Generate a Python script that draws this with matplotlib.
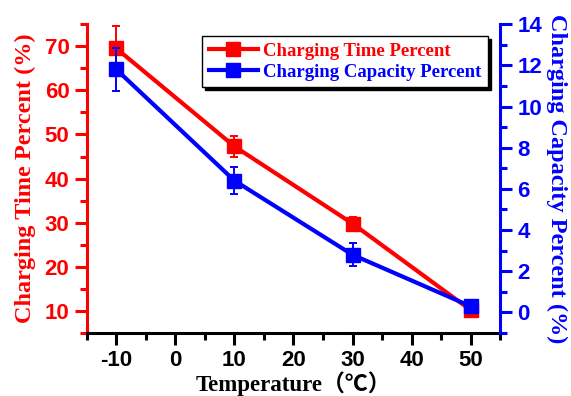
import matplotlib
matplotlib.use("Agg")
import matplotlib.pyplot as plt
from matplotlib.ticker import MultipleLocator

# data
temps = [-10, 10, 30, 50]
time_pct = [69.5, 47.3, 29.8, 10.2]
time_err = [5.0, 2.4, 1.6, 1.2]
cap_pct = [11.8, 6.4, 2.8, 0.3]
cap_err = [1.05, 0.65, 0.55, 0.15]

RED, BLUE = "#ff0000", "#0000ff"
SANS = "Liberation Sans"
SERIF = ["Liberation Serif", "Noto Sans CJK SC"]
plt.rcParams["axes.unicode_minus"] = False

fig = plt.figure(figsize=(5.71, 3.96), dpi=100)
ax = fig.add_axes([0.152, 0.159, 0.724, 0.780])
ax2 = ax.twinx()

e1 = ax.errorbar(temps, time_pct, yerr=time_err, color=RED, lw=3, marker="s", ms=10,
                 elinewidth=1.4, capsize=3, capthick=1.4)
e2 = ax2.errorbar(temps, cap_pct, yerr=cap_err, color=BLUE, lw=3, marker="s", ms=10,
                  elinewidth=1.4, capsize=3, capthick=1.4)

ax.set_xlim(-15, 55)
ax.set_ylim(5, 75)
ax2.set_ylim(-1, 14)
ax.xaxis.set_major_locator(MultipleLocator(10))
ax.xaxis.set_minor_locator(MultipleLocator(5))
ax.yaxis.set_major_locator(MultipleLocator(10))
ax.yaxis.set_minor_locator(MultipleLocator(5))
ax2.yaxis.set_major_locator(MultipleLocator(2))
ax2.yaxis.set_minor_locator(MultipleLocator(1))

for a in (ax, ax2):
    a.spines["top"].set_visible(False)
    for s in a.spines.values():
        s.set_linewidth(2.2)
ax.spines["right"].set_visible(False)
ax.spines["left"].set_color(RED)
ax2.spines["left"].set_visible(False)
ax2.spines["bottom"].set_visible(False)
ax2.spines["right"].set_color(BLUE)

ax.tick_params(axis="x", which="major", length=8.5, width=2.2, pad=4)
ax.tick_params(axis="x", which="minor", length=5, width=2.2)
ax.tick_params(axis="y", which="major", length=8.5, width=2.2, pad=4, color=RED, labelcolor=RED)
ax.tick_params(axis="y", which="minor", length=5, width=2.2, color=RED)
ax2.tick_params(axis="y", which="major", length=8.5, width=2.2, pad=4, color=BLUE, labelcolor=BLUE)
ax2.tick_params(axis="y", which="minor", length=5, width=2.2, color=BLUE)

for lab in ax.get_xticklabels() + ax.get_yticklabels() + ax2.get_yticklabels():
    lab.set_fontfamily(SANS)
    lab.set_fontweight("bold")
    lab.set_fontsize(16)

ax.set_xlabel("Temperature（℃）", family=SERIF, fontweight="bold", fontsize=16.5, labelpad=0)
ax.set_ylabel("Charging Time Percent (%)", family=SERIF, fontweight="bold", fontsize=17.5,
              color=RED, labelpad=6)
ax2.set_ylabel("Charging Capacity Percent (%)", family=SERIF, fontweight="bold", fontsize=17.5,
               color=BLUE, rotation=270, labelpad=18)

# legend shows only line + square marker (no error bar glyph)
leg = ax2.legend([e1.lines[0], e2.lines[0]],
                 ["Charging Time Percent", "Charging Capacity Percent"],
                 loc="upper right", bbox_to_anchor=(0.971, 0.961),
                 borderaxespad=0, fancybox=False, edgecolor="black", handlelength=2.6,
                 prop={"family": "Liberation Serif", "weight": "bold", "size": 13.5},
                 shadow={"color": "black", "alpha": 1}, labelspacing=0.2, borderpad=0.35,
                 handletextpad=0.3)
leg.get_frame().set_linewidth(1.0)
for t, c in zip(leg.get_texts(), [RED, BLUE]):
    t.set_color(c)

fig.savefig("out.png", dpi=100)
